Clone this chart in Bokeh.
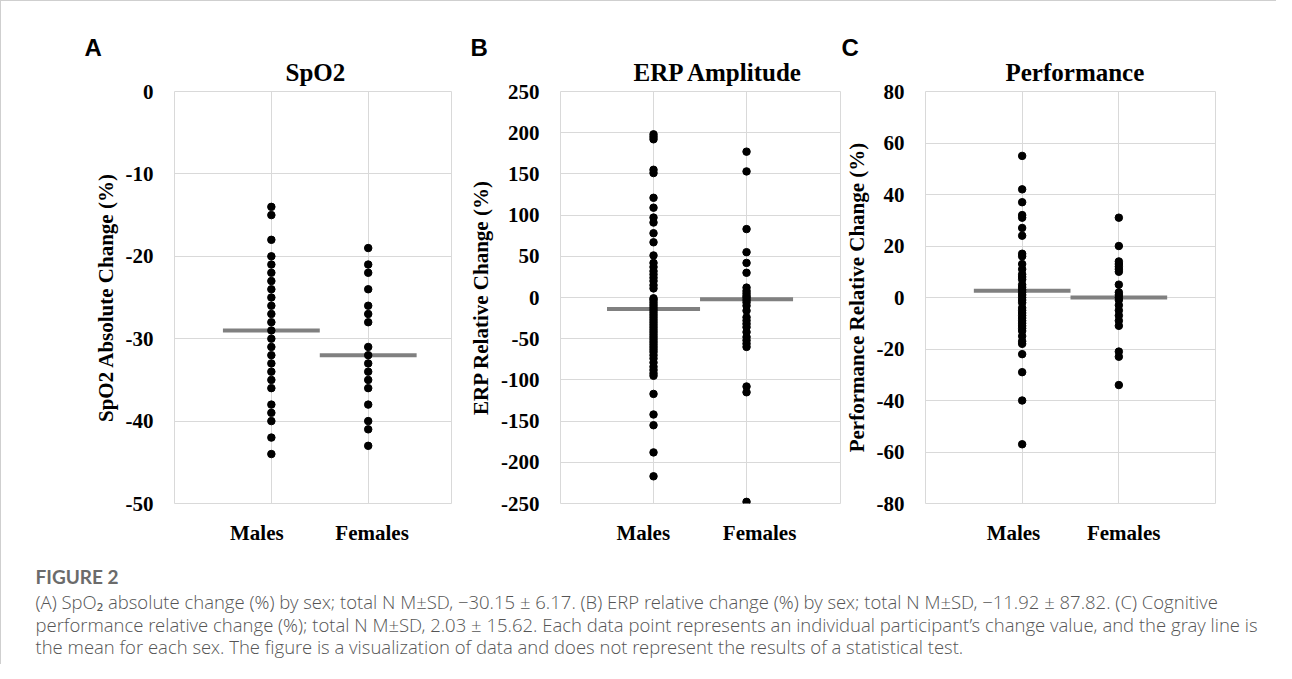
from bokeh.plotting import figure
from bokeh.layouts import column, row
from bokeh.models import Range1d, FixedTicker, Title
from bokeh.core.properties import value
from bokeh.embed import file_html
from bokeh.resources import INLINE

# ---------------- data ----------------
groups = ["Males", "Females"]

spo2_males = [-14, -15, -18, -20, -21, -22, -23, -24, -25, -26, -27, -28, -29, -30,
              -31, -32, -33, -34, -35, -36, -38, -39, -40, -42, -44]
spo2_females = [-19, -21, -22, -24, -26, -27, -28, -31, -32, -33, -34, -35, -36,
                -38, -40, -41, -43]
spo2_means = [-29, -32]

erp_males = [198, 195, 192, 155, 151, 121, 109, 97, 91, 78, 67, 51, 42, 37, 32, 28,
             24, 20, 15, 11, -1, -3, -6, -9, -12, -15, -18, -21, -24, -27, -30, -33,
             -36, -39, -42, -45, -48, -51, -54, -57, -60, -63, -66, -70, -74, -79,
             -84, -88, -92, -95, -117, -142, -155, -188, -217]
erp_females = [177, 153, 83, 55, 42, 30, 12, 8, 5, 2, 0, -3, -6, -10, -16, -24, -28,
               -32, -36, -42, -48, -52, -56, -60, -108, -115, -248]
erp_means = [-14, -2]

perf_males = [55, 42, 37, 32, 31, 27, 24, 17, 16, 13, 11, 9, 8, 7, 5, 4, 3, 2, 1, 0,
              -1, -2, -4, -5, -6, -7, -8, -9, -10, -11, -12, -13, -15, -17, -18, -22,
              -29, -40, -57]
perf_females = [31, 20, 14, 13, 12, 11, 10, 5, 2, 1, 0, -1, -3, -5, -7, -9, -11,
                -21, -23, -34]
perf_means = [2.6, 0]

panel_letters = ["A", "B", "C"]
panel_titles = ["SpO2", "ERP Amplitude", "Performance"]
y_labels = ["SpO2 Absolute Change (%)", "ERP Relative Change (%)",
            "Performance Relative Change (%)"]
y_limits = [(-50, 0), (-250, 250), (-80, 80)]
y_steps = [10, 50, 20]

caption_title = "FIGURE 2"
caption_lines = [
    "(A) SpO\u2082 absolute change (%) by sex; total N M\u00b1SD, \u221230.15 \u00b1 6.17. "
    "(B) ERP relative change (%) by sex; total N M\u00b1SD, \u221211.92 \u00b1 87.82. (C) Cognitive",
    "performance relative change (%); total N M\u00b1SD, 2.03 \u00b1 15.62. Each data point "
    "represents an individual participant\u2019s change value, and the gray line is",
    "the mean for each sex. The figure is a visualization of data and does not represent "
    "the results of a statistical test.",
]

SERIF = "Liberation Serif"
GRID = "#d9d9d9"


def panel(idx, males, females, means, xmax, width, bl, br, letter_off,
          title_off, label_ticks):
    p = figure(width=width, height=550, x_range=Range1d(0, xmax),
               y_range=Range1d(*y_limits[idx]), output_backend="svg",
               toolbar_location=None, min_border_left=bl, min_border_right=br,
               min_border_top=90, min_border_bottom=48, title=None)

    lo, hi = y_limits[idx]
    yt = list(range(lo, hi + 1, y_steps[idx]))
    p.yaxis.ticker = FixedTicker(ticks=yt)
    p.yaxis.major_label_overrides = {t: str(t) for t in yt}
    p.xaxis.ticker = FixedTicker(ticks=label_ticks)
    p.xaxis.major_label_overrides = {label_ticks[0]: groups[0],
                                     label_ticks[1]: groups[1]}

    for ax in (p.xaxis[0], p.yaxis[0]):
        ax.axis_line_color = None
        ax.major_tick_line_color = None
        ax.minor_tick_line_color = None
        ax.major_label_text_font = SERIF
        ax.major_label_text_font_style = "bold"
        ax.major_label_text_font_size = "21px"
        ax.major_label_text_color = "#000000"
    p.yaxis.major_label_standoff = 15
    p.xaxis.major_label_standoff = 11
    p.yaxis.axis_label = y_labels[idx]
    p.yaxis.axis_label_text_font = SERIF
    p.yaxis.axis_label_text_font_style = "bold"
    p.yaxis.axis_label_text_font_size = "21px"
    p.yaxis.axis_label_text_color = "#000000"
    p.yaxis.axis_label_standoff = 5

    p.xgrid.ticker = FixedTicker(ticks=[1, 2])
    p.grid.grid_line_color = GRID
    p.grid.grid_line_width = 1
    p.outline_line_color = GRID
    p.outline_line_width = 1

    p.segment(x0=[0.5, 1.5], x1=[1.5, 2.5], y0=means, y1=means,
              line_color="#808080", line_width=4)
    p.scatter(x=[1] * len(males), y=males, size=7.5, color="black")
    p.scatter(x=[2] * len(females), y=females, size=7.5, color="black")

    p.add_layout(Title(text=panel_titles[idx], align="left", offset=title_off,
                       standoff=12, text_font=SERIF, text_font_style="bold",
                       text_font_size="25px", text_color="#000000"), "above")
    p.add_layout(Title(text=panel_letters[idx], align="left", offset=letter_off,
                       standoff=-20, text_font="Liberation Sans",
                       text_font_style="bold", text_font_size="24px",
                       text_color="#000000"), "above")
    return p


pa = panel(0, spo2_males, spo2_females, spo2_means, 2.86, 462, 173, 12, -90, 111,
           [0.85, 2.04])
pb = panel(1, erp_males, erp_females, erp_means, 3.01, 378, 97, 1, -90, 73,
           [0.89, 2.14])
pc = panel(2, perf_males, perf_females, perf_means, 3.0, 435, 84, 61, -84, 80,
           [0.91, 2.05])

CAP_W, CAP_H = 1275, 113
cap = figure(width=CAP_W, height=CAP_H, x_range=Range1d(0, CAP_W),
             y_range=Range1d(CAP_H, 0), output_backend="svg", toolbar_location=None,
             min_border=0, x_axis_location=None, y_axis_location=None,
             outline_line_color=None)
cap.grid.visible = False
cap.text(x=[34], y=[25], text=[caption_title],
         text_font=value("Lato"), text_font_style="bold", text_font_size="19px",
         text_color="#6b6b6b", text_baseline="middle")
cap.text(x=[34] * 3, y=[50, 72.5, 95], text=caption_lines,
         text_font=value("'Open Sans Light', 'Open Sans', sans-serif"),
         text_font_size="18.5px", text_color="#555555", text_baseline="middle")

layout = column(row(pa, pb, pc), cap,
                styles={"border-top": "1px solid #cfcfcf",
                        "border-left": "1px solid #cfcfcf"})

open("out.html", "w").write(file_html(layout, INLINE))
